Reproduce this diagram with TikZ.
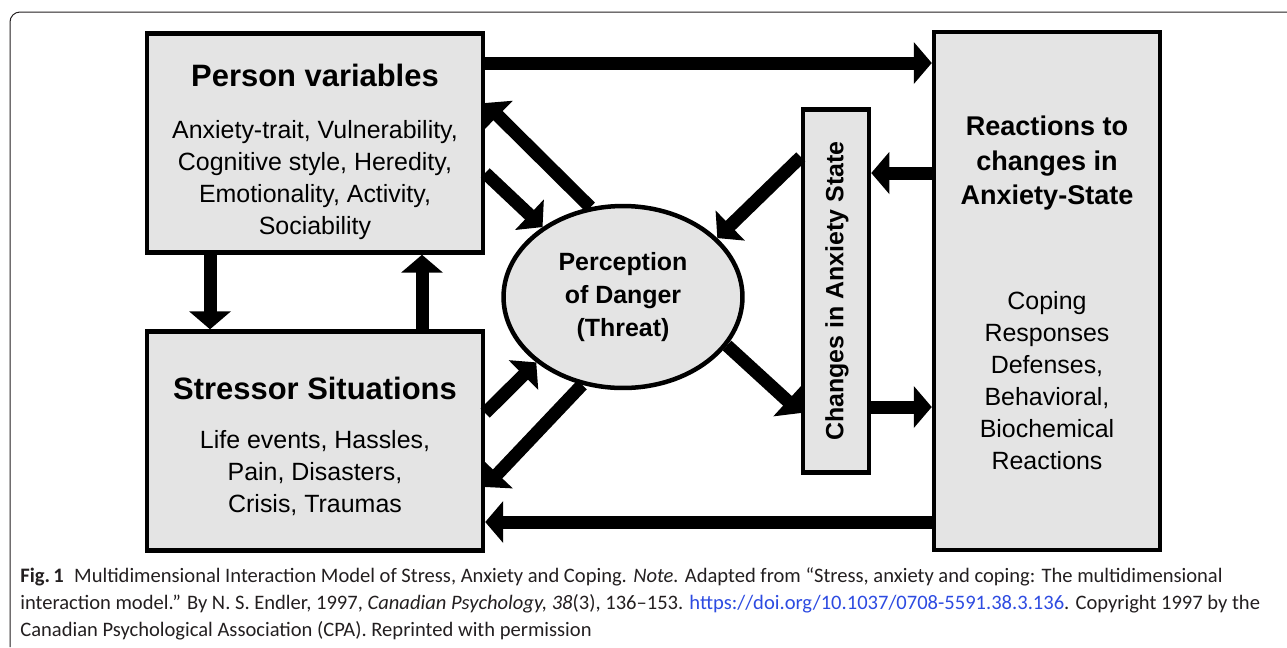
\documentclass[tikz,border=0pt]{standalone}
\usepackage{xcolor}
\usepackage{fontspec}
\setmainfont{Liberation Sans}
\newfontfamily\capfont{Carlito}
\usepackage{tikz}
\usetikzlibrary{arrows.meta,calc,positioning,shapes}
\definecolor{boxgray}{RGB}{228,228,228}
\definecolor{linkblue}{RGB}{45,75,225}
\definecolor{capgray}{RGB}{35,31,32}

\begin{document}
\begin{tikzpicture}[x=0.02cm,y=-0.02cm,
  box/.style={draw,line width=0.09cm,fill=boxgray,inner sep=0pt},
  arr/.style={line width=0.26cm,-{Triangle[width=0.82cm,length=0.36cm]}},
  head/.style={font=\bfseries\fontsize{17.6}{20}\selectfont},
  subhead/.style={align=center,font=\bfseries\fontsize{15.4}{19.9}\selectfont},
  body/.style={align=center,font=\fontsize{14.2}{18.2}\selectfont}]
  \useasboundingbox (0,0) rectangle (1287,647);
  % frame of the figure
  \draw[capgray,line width=0.02cm,rounded corners=0.2cm] (1287,12) -- (10,12) -- (10,647);

  % boxes
  \node[box,minimum width=6.72cm,minimum height=4.38cm] (pv) at (315,143) {};
  \node[box,minimum width=6.72cm,minimum height=4.38cm] (ss) at (315,441) {};
  \node[box,minimum width=4.52cm,minimum height=10.36cm] (rx) at (1047,291) {};
  \node[box,minimum width=1.32cm,minimum height=7.26cm] (ca) at (836,291) {};
  \node[box,ellipse,minimum width=4.78cm,minimum height=3.64cm,align=center,
        font=\bfseries\fontsize{14.2}{18.8}\selectfont] (pd) at (623,297)
        {Perception\\of Danger\\(Threat)};

  % texts in the boxes
  \node[head] (pvt) at (315,75) {Person variables};
  \node[body] (pvb) at (315,180) {Anxiety-trait, Vulnerability,\\Cognitive style, Heredity,\\Emotionality, Activity,\\Sociability};
  \node[head] (sst) at (315,388) {Stressor Situations};
  \node[body] (ssb) at (315,473) {Life events, Hassles,\\Pain, Disasters,\\Crisis, Traumas};
  \node[subhead] (rxt) at (1047,163) {Reactions to\\changes in\\Anxiety-State};
  \node[body] (rxb) at (1047,381) {Coping\\Responses\\Defenses,\\Behavioral,\\Biochemical\\Reactions};
  \node[rotate=90,font=\bfseries\fontsize{14.2}{17}\selectfont] (cat) at (837,291) {Changes in Anxiety State};

  % arrows
  \draw[arr] (pv.east |- 0,63) -- (rx.west |- 0,63);
  \draw[arr] (pv.south -| 210,0) -- (ss.north -| 210,0);
  \draw[arr] (ss.north -| 422,0) -- (pv.south -| 422,0);
  \draw[arr] (pd.110) -- (pv.east |- 0,103);
  \draw[arr] (pv.east |- 0,173) -- (pd.139);
  \draw[arr] (ss.east |- 0,413) -- (pd.217);
  \draw[arr] (pd.245) -- (ss.east |- 0,487);
  \draw[arr] (ca.west |- 0,157) -- (pd.32);
  \draw[arr] (pd.335) -- (ca.west |- 0,413);
  \draw[arr] (rx.west |- 0,173) -- (ca.east |- 0,173);
  \draw[arr] (ca.east |- 0,407) -- (rx.west |- 0,407);
  \draw[arr] (rx.west |- 0,522) -- (ss.east |- 0,522);

  % caption
  \node[anchor=north west,align=left,inner sep=0pt,text=capgray,
        font=\capfont\fontsize{11.7}{15.4}\selectfont] (cap) at (20,567)
  {\textbf{Fig.\,1}\enspace Multidimensional Interaction Model of Stress, Anxiety and Coping. \textit{Note.} Adapted from “Stress, anxiety and coping: The multidimensional\\
   interaction model.” By N. S. Endler, 1997, \textit{Canadian Psychology, 38}(3), 136–153. \textcolor{linkblue}{https://doi.org/10.1037/0708-5591.38.3.136}. Copyright 1997 by the\\
   Canadian Psychological Association (CPA). Reprinted with permission};
\end{tikzpicture}
\end{document}
